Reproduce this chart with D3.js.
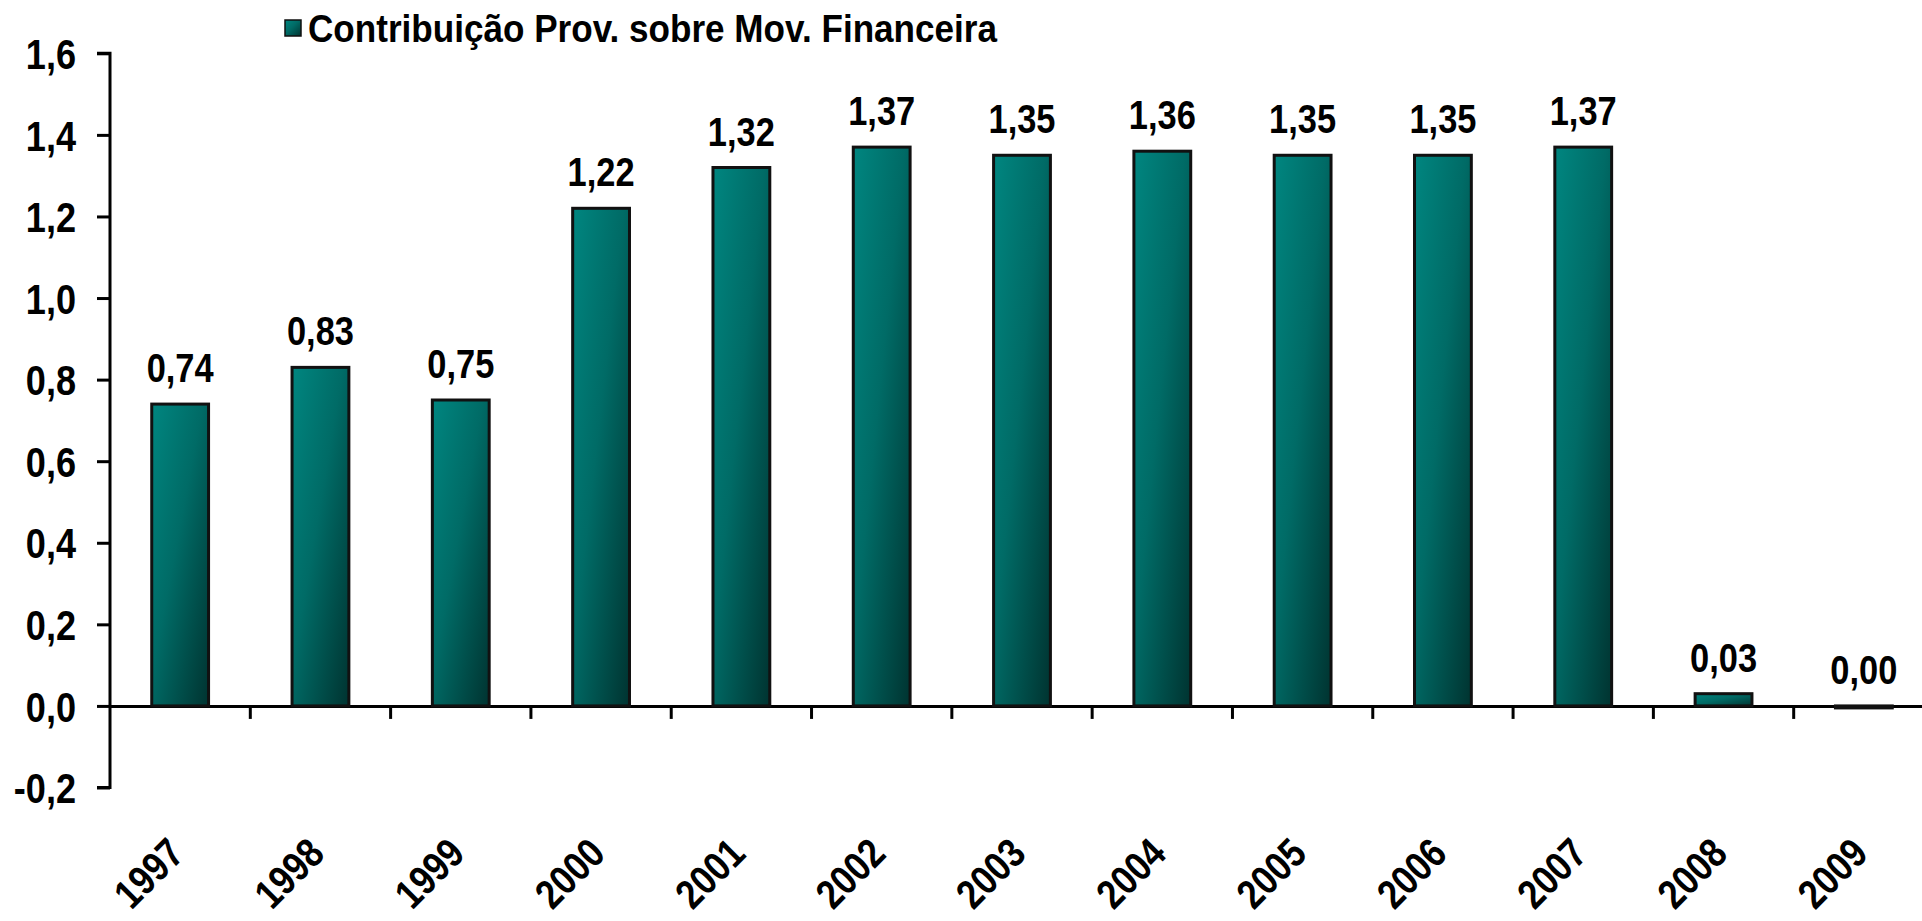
<!DOCTYPE html>
<html>
<head>
<meta charset="utf-8">
<script src="https://cdn.jsdelivr.net/npm/d3@7"></script>
<style>
html,body{margin:0;padding:0;background:#fff;overflow:hidden;}
svg{display:block;}
text{font-family:"Liberation Sans",Arial,sans-serif;font-weight:bold;fill:#000;}
</style>
</head>
<body>
<svg id="chart" width="1922" height="921"></svg>
<script>
const categories = ["1997","1998","1999","2000","2001","2002","2003","2004","2005","2006","2007","2008","2009"];
const values = [0.74, 0.83, 0.75, 1.22, 1.32, 1.37, 1.35, 1.36, 1.35, 1.35, 1.37, 0.03, -0.0049];
const yTicks = [-0.2, 0, 0.2, 0.4, 0.6, 0.8, 1.0, 1.2, 1.4, 1.6];
const seriesName = "Contribuição Prov. sobre Mov. Financeira";

const svg = d3.select("#chart");
const locale = d3.formatLocale({decimal: ",", thousands: ".", grouping: [3], currency: ["", ""], minus: "-"});
const fmt1 = locale.format(".1f");
const fmt2 = locale.format(".2f");

const x = d3.scaleBand().domain(categories).range([110, 1934]).paddingInner(0).paddingOuter(0);
const y = d3.scaleLinear().domain([-0.2, 1.6]).range([787.5, 53.3]);

// gradient
const defs = svg.append("defs");
const grad = defs.append("linearGradient").attr("id", "barGrad")
  .attr("x1", "0%").attr("y1", "0%").attr("x2", "100%").attr("y2", "100%");
grad.append("stop").attr("offset", "0%").attr("stop-color", "#008680");
grad.append("stop").attr("offset", "45%").attr("stop-color", "#006b66");
grad.append("stop").attr("offset", "100%").attr("stop-color", "#003330");

// y axis
const yAxis = d3.axisLeft(y).tickValues(yTicks).tickFormat(fmt1).tickSize(13).tickPadding(0);
const gy = svg.append("g").attr("transform", "translate(110,0)").call(yAxis);
gy.select(".domain").attr("stroke", "#000").attr("stroke-width", 3).attr("d", `M-13,${y(1.6)}H0V${y(-0.2)}H-13`);
gy.selectAll(".tick line").attr("stroke", "#000").attr("stroke-width", 3);
gy.selectAll(".tick text").attr("font-size", 42).attr("dy", "0.36em").attr("x", 0).attr("fill", "#000")
  .attr("transform", "translate(-34,0) scale(0.86,1)");

// x axis at zero
const xAxis = d3.axisBottom(x).tickSize(0).tickFormat("");
const gx = svg.append("g").attr("transform", `translate(0,${y(0)})`).call(xAxis);
gx.select(".domain").attr("stroke", "#000").attr("stroke-width", 3);
// category boundary ticks
svg.append("g").selectAll("line").data(categories.slice(1)).join("line")
  .attr("x1", d => x(d)).attr("x2", d => x(d))
  .attr("y1", y(0)).attr("y2", y(0) + 13)
  .attr("stroke", "#000").attr("stroke-width", 3);

// bars
const barW = x.bandwidth() * 0.405;
svg.append("g").selectAll("rect").data(values).join("rect")
  .attr("x", (d, i) => x(categories[i]) + x.bandwidth() / 2 - barW / 2)
  .attr("y", d => y(Math.max(d, 0)))
  .attr("width", barW)
  .attr("height", d => Math.abs(y(d) - y(0)))
  .attr("fill", "url(#barGrad)")
  .attr("stroke", "#111")
  .attr("stroke-width", 3);

// x labels rotated
svg.append("g").selectAll("text").data(categories).join("text")
  .attr("transform", d => `translate(${x(d) + x.bandwidth() / 2 + 6},${y(0) + 150}) rotate(-45) scale(0.85,1)`)
  .attr("text-anchor", "end")
  .attr("font-size", 41)
  .text(d => d);

// value labels
svg.append("g").selectAll("text").data(values).join("text")
  .attr("transform", (d, i) => `translate(${x(categories[i]) + x.bandwidth() / 2},${y(Math.max(d, 0)) - 22}) scale(0.84,1)`)
  .attr("text-anchor", "middle")
  .attr("font-size", 41)
  .text(d => fmt2(d));

// legend
const lg = svg.append("g").attr("transform", "translate(285,20)");
lg.append("rect").attr("x", 0).attr("y", 0).attr("width", 16).attr("height", 16)
  .attr("fill", "url(#barGrad)").attr("stroke", "#111").attr("stroke-width", 1.5);
lg.append("text").attr("transform", "translate(23,22) scale(0.9,1)").attr("font-size", 39).text(seriesName);
</script>
</body>
</html>
